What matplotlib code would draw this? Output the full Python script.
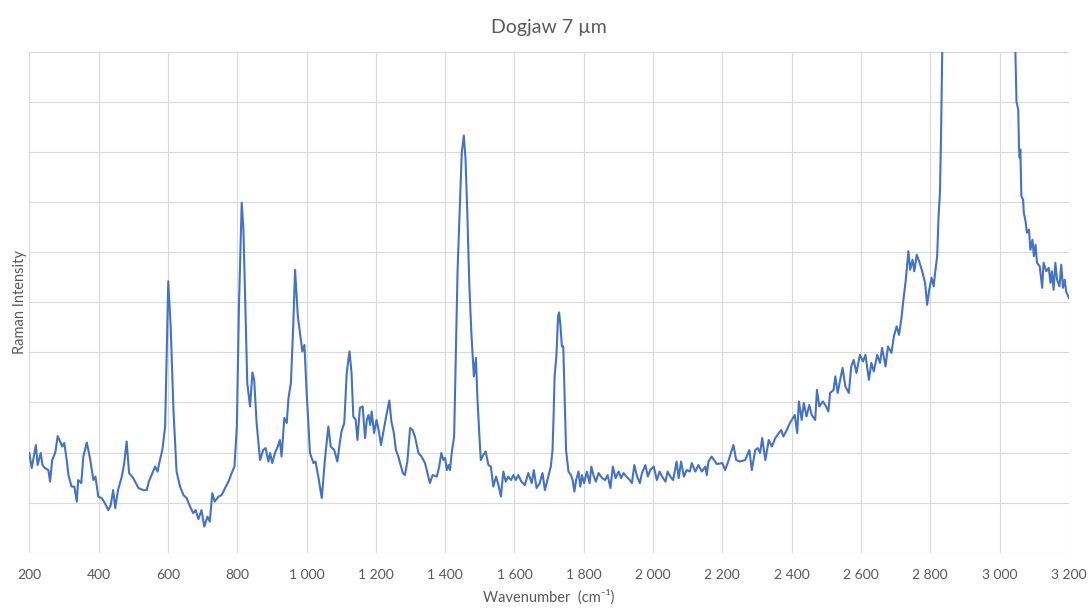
import matplotlib
matplotlib.use("Agg")
import matplotlib.pyplot as plt
from matplotlib.ticker import FuncFormatter, MultipleLocator

plt.rcParams['font.family'] = ['Lato', 'DejaVu Sans']

# Raman spectrum (wavenumber in cm-1, intensity in arbitrary units)
wavenumber = [
    200, 207, 219, 224, 233, 238, 245, 255, 260, 266, 275, 282, 289, 295, 301, 308, 313, 322, 330, 337,
    341, 350, 356, 366, 375, 385, 391, 399, 409, 418, 428, 435, 442, 448, 456, 467, 474, 481, 488, 500,
    515, 529, 539, 545, 553, 563, 570, 577, 584, 592, 596, 601, 608, 616, 625, 635, 645, 654, 664, 673,
    680, 688, 697, 705, 714, 721, 728, 735, 746, 755, 765, 775, 784, 792, 799, 805, 813, 818, 823, 829,
    837, 844, 849, 856, 866, 875, 882, 890, 895, 901, 909, 917, 923, 928, 936, 943, 948, 955, 962, 967,
    975, 981, 988, 994, 1000, 1010, 1020, 1026, 1034, 1044, 1053, 1063, 1070, 1080, 1089, 1096, 1101, 1109, 1116, 1124,
    1130, 1135, 1142, 1147, 1154, 1162, 1169, 1174, 1179, 1184, 1188, 1195, 1202, 1209, 1215, 1222, 1229, 1239, 1245, 1252,
    1258, 1265, 1270, 1278, 1284, 1291, 1299, 1306, 1313, 1323, 1332, 1342, 1349, 1356, 1364, 1376, 1383, 1389, 1395, 1400,
    1405, 1410, 1414, 1419, 1426, 1431, 1436, 1443, 1448, 1454, 1459, 1464, 1470, 1476, 1479, 1483, 1489, 1493, 1499, 1503,
    1510, 1517, 1525, 1532, 1539, 1547, 1554, 1561, 1568, 1575, 1582, 1590, 1597, 1604, 1611, 1620, 1630, 1640, 1650, 1656,
    1664, 1673, 1681, 1688, 1697, 1705, 1710, 1713, 1716, 1721, 1726, 1729, 1733, 1737, 1741, 1744, 1749, 1756, 1763, 1768,
    1773, 1778, 1785, 1790, 1795, 1801, 1809, 1817, 1822, 1828, 1835, 1843, 1853, 1862, 1869, 1877, 1884, 1892, 1901, 1908,
    1915, 1923, 1933, 1939, 1946, 1954, 1962, 1968, 1978, 1985, 1992, 2002, 2011, 2019, 2026, 2036, 2042, 2050, 2058, 2068,
    2074, 2081, 2089, 2097, 2106, 2112, 2122, 2131, 2141, 2151, 2155, 2160, 2169, 2184, 2200, 2208, 2217, 2232, 2240, 2251,
    2266, 2278, 2285, 2295, 2302, 2309, 2315, 2324, 2334, 2343, 2353, 2363, 2370, 2376, 2386, 2395, 2409, 2416, 2421, 2429,
    2435, 2443, 2451, 2458, 2468, 2473, 2480, 2490, 2497, 2506, 2511, 2521, 2526, 2533, 2540, 2547, 2555, 2565, 2572, 2579,
    2587, 2597, 2606, 2613, 2623, 2630, 2637, 2647, 2655, 2661, 2671, 2678, 2688, 2695, 2703, 2710, 2717, 2722, 2729, 2737,
    2742, 2749, 2754, 2761, 2768, 2778, 2785, 2791, 2797, 2804, 2810, 2814, 2820, 2824, 2828, 2831, 2835, 2850, 2880, 2920,
    2960, 3000, 3030, 3045, 3049, 3054, 3056, 3058, 3060, 3063, 3068, 3070, 3075, 3079, 3085, 3089, 3095, 3099, 3104, 3108,
    3116, 3123, 3127, 3135, 3142, 3147, 3151, 3156, 3161, 3166, 3173, 3178, 3183, 3188, 3192, 3200,
]
intensity = [
    1.99, 1.69, 2.15, 1.75, 1.99, 1.75, 1.69, 1.65, 1.42, 1.85, 2.00, 2.33, 2.22, 2.12, 2.19, 1.85, 1.55, 1.32, 1.32, 1.02,
    1.45, 1.39, 1.92, 2.20, 1.89, 1.45, 1.52, 1.12, 1.09, 0.99, 0.85, 0.95, 1.25, 0.89, 1.25, 1.52, 1.79, 2.22, 1.59, 1.49,
    1.29, 1.25, 1.25, 1.42, 1.55, 1.72, 1.62, 1.85, 2.05, 2.52, 3.85, 5.42, 4.52, 2.85, 1.62, 1.32, 1.15, 1.09, 0.92, 0.79,
    0.85, 0.67, 0.85, 0.52, 0.72, 0.62, 1.19, 1.02, 1.12, 1.15, 1.29, 1.42, 1.59, 1.72, 2.52, 4.92, 6.99, 6.45, 5.05, 3.39,
    2.92, 3.60, 3.45, 2.59, 1.85, 2.05, 2.09, 1.82, 1.99, 1.79, 1.99, 2.12, 2.25, 1.92, 2.69, 2.59, 3.09, 3.39, 4.59, 5.65,
    4.72, 4.39, 4.02, 4.15, 3.25, 1.99, 1.79, 1.82, 1.52, 1.09, 1.85, 2.52, 2.12, 2.05, 1.82, 2.19, 2.42, 2.59, 3.59, 4.02,
    3.59, 2.72, 2.65, 2.25, 2.89, 2.92, 2.29, 2.65, 2.75, 2.55, 2.82, 2.39, 2.65, 2.42, 2.15, 2.42, 2.69, 3.04, 2.62, 2.39,
    2.05, 1.92, 1.79, 1.59, 1.55, 1.82, 2.49, 2.45, 2.32, 1.99, 1.92, 1.79, 1.59, 1.39, 1.55, 1.52, 1.72, 1.99, 1.85, 1.89,
    1.65, 1.75, 1.65, 1.99, 2.32, 3.99, 5.65, 6.99, 7.99, 8.33, 7.85, 6.79, 5.32, 4.35, 3.99, 3.52, 3.89, 3.12, 2.32, 1.85,
    1.95, 2.02, 1.75, 1.72, 1.32, 1.52, 1.35, 1.12, 1.62, 1.42, 1.52, 1.45, 1.55, 1.45, 1.55, 1.42, 1.35, 1.59, 1.39, 1.65,
    1.29, 1.39, 1.59, 1.25, 1.50, 1.72, 2.05, 2.72, 3.52, 3.92, 4.72, 4.80, 4.52, 4.12, 4.12, 3.32, 2.05, 1.62, 1.55, 1.45,
    1.22, 1.45, 1.62, 1.32, 1.55, 1.39, 1.62, 1.39, 1.72, 1.55, 1.42, 1.59, 1.49, 1.45, 1.55, 1.29, 1.72, 1.49, 1.62, 1.49,
    1.59, 1.52, 1.45, 1.39, 1.75, 1.52, 1.39, 1.59, 1.75, 1.52, 1.65, 1.72, 1.45, 1.62, 1.52, 1.42, 1.62, 1.52, 1.45, 1.82,
    1.49, 1.82, 1.52, 1.65, 1.62, 1.79, 1.62, 1.75, 1.62, 1.72, 1.55, 1.82, 1.92, 1.77, 1.79, 1.65, 1.82, 2.15, 1.85, 1.82,
    1.85, 2.05, 1.65, 2.05, 2.09, 1.99, 2.29, 1.85, 2.25, 2.12, 2.29, 2.39, 2.45, 2.32, 2.45, 2.59, 2.75, 2.39, 3.02, 2.65,
    2.99, 2.72, 2.95, 2.75, 2.65, 3.25, 2.92, 3.02, 2.95, 2.82, 3.19, 3.25, 3.52, 3.19, 3.45, 3.69, 3.32, 3.19, 3.72, 3.85,
    3.59, 3.95, 3.82, 3.95, 3.45, 3.79, 3.62, 3.95, 3.79, 4.09, 3.72, 4.12, 3.99, 4.32, 4.52, 4.35, 4.69, 5.02, 5.42, 6.02,
    5.65, 5.85, 5.62, 5.95, 5.82, 5.59, 5.39, 4.95, 5.25, 5.49, 5.32, 5.59, 5.92, 6.72, 7.19, 8.25, 10.2, 12.5, 13.5, 14.0,
    13.5, 12.5, 11.5, 10.2, 9.00, 8.85, 8.10, 7.89, 8.05, 7.12, 7.05, 6.79, 6.62, 6.39, 6.45, 6.05, 6.25, 5.92, 6.15, 5.79,
    5.72, 5.29, 5.79, 5.62, 5.69, 5.39, 5.62, 5.25, 5.79, 5.45, 5.32, 5.75, 5.29, 5.45, 5.22, 5.09,
]

grey = "#595959"

fig = plt.figure(figsize=(10.89, 6.08), dpi=100)
ax = fig.add_axes([0.0269, 0.091, 0.9546, 0.8235])

ax.plot(wavenumber, intensity, color="#4472C4", linewidth=1.5)

ax.set_xlim(200, 3200)
ax.set_ylim(0, 10)
ax.xaxis.set_major_locator(MultipleLocator(200))
ax.yaxis.set_major_locator(MultipleLocator(1))
ax.xaxis.set_major_formatter(FuncFormatter(lambda v, p: f"{v:,.0f}".replace(",", " ")))
ax.set_yticklabels([])
ax.tick_params(axis="both", length=0, colors=grey, labelsize=10)
ax.tick_params(axis="x", pad=12)
ax.grid(True, color="#d9d9d9", linewidth=0.8)
ax.set_axisbelow(True)
for s in ax.spines.values():
    s.set_visible(False)

ax.set_title("Dogjaw 7 µm", color=grey, fontsize=14, pad=14)
ax.set_xlabel("Wavenumber  (cm⁻¹)", color=grey, fontsize=10.5, labelpad=6)
ax.set_ylabel("Raman Intensity", color=grey, fontsize=10.5, labelpad=-2)

fig.savefig("out.png", dpi=100)
